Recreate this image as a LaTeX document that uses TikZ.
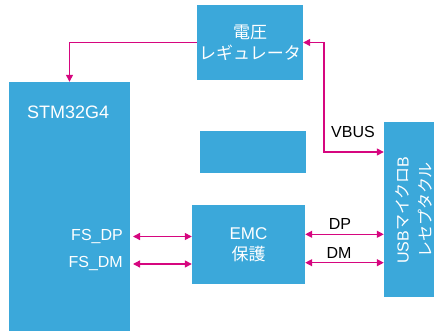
\documentclass[tikz,border=0pt]{standalone}
\usepackage{fontspec}
\setmainfont{Liberation Sans}
\newfontfamily\jp{Noto Sans CJK JP}
\usetikzlibrary{arrows.meta}
\definecolor{boxblue}{HTML}{3BA8DA}
\definecolor{wire}{HTML}{D6067F}
\tikzset{
  blk/.style={fill=boxblue, draw=none, inner sep=0pt, text=white, align=center, font=\fontsize{17}{22}\selectfont},
  lbl/.style={inner sep=0pt, font=\fontsize{16}{19}\selectfont},
  wlbl/.style={lbl, text=white},
  arr/.style={draw=wire, line width=1.3pt, -{Triangle[length=7pt,width=7pt]}},
  darr/.style={draw=wire, line width=1.3pt, {Triangle[length=7pt,width=7pt]}-{Triangle[length=7pt,width=7pt]}},
}
\begin{document}
\begin{tikzpicture}[x=1pt,y=1pt]
\useasboundingbox (0,0) rectangle (434,-331);
% boxes
\node[blk, minimum width=106pt, minimum height=75pt] (reg) at (250,-42.5) {{\jp 電圧}\\[-1pt]{\jp レギュレータ}};
\node[blk, minimum width=121pt, minimum height=249pt] (stm) at (69.5,-206.5) {};
\node[blk, minimum width=106pt, minimum height=42pt] (empty) at (253,-152) {};
\node[blk, minimum width=52pt, minimum height=175pt] (usb) at (410,-209.5) {};
\node[blk, minimum width=113pt, minimum height=79pt] (emc) at (248.5,-244.5) {EMC\\[-1pt]{\jp 保護}};
% texts
\node[blk, fill=none, anchor=west, font=\fontsize{18}{22}\selectfont] (stmlbl) at (27,-112) {STM32G4};
\node[blk, fill=none, rotate=90, font=\fontsize{16}{23}\selectfont] (usblbl) at (414,-210) {USB{\jp マイクロ}B\\{\jp レセプタクル}};
\node[wlbl, anchor=east] (fsdp) at (123,-237) {FS\_DP};
\node[wlbl, anchor=east] (fsdm) at (123,-264) {FS\_DM};
\node[lbl] (vbus) at (353,-132) {VBUS};
\node[lbl] (dp) at (340,-224) {DP};
\node[lbl] (dm) at (339,-253) {DM};
% connector end points
\coordinate (fsdpA) at ([xshift=10pt]fsdp.east);
\coordinate (fsdmA) at ([xshift=10pt]fsdm.east |- 0,-264);
\coordinate (vbturn) at (324,-42.5);
% connectors
\draw[arr] (reg.west) -| (stm.north);
\draw[darr] (reg.east) -- (vbturn) |- (usb.west |- 0,-152);
\draw[darr] (fsdpA |- 0,-236.5) -- (emc.west |- 0,-236.5);
\draw[darr] (fsdmA) -- (emc.west |- 0,-264);
\draw[darr] (emc.east |- 0,-234.3) -- (usb.west |- 0,-234.3);
\draw[darr] (emc.east |- 0,-262.7) -- (usb.west |- 0,-262.7);
\end{tikzpicture}
\end{document}
